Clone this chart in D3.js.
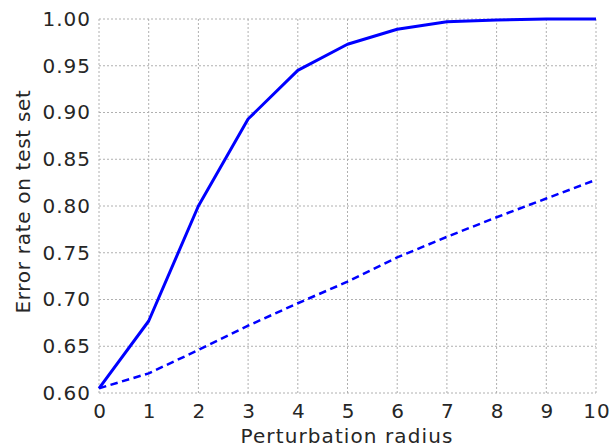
<!DOCTYPE html>
<html>
<head>
<meta charset="utf-8">
<title>Error rate vs perturbation radius</title>
<style>
body { margin: 0; background: #fff; }
text {
  font-family: "DejaVu Sans", sans-serif;
  fill: #262626;
}
.grid line {
  stroke: #b0b0b0;
  stroke-width: 1px;
  stroke-dasharray: 2 2;
}
.axis path, .axis line { display: none; }
</style>
</head>
<body>
<script src="https://cdn.jsdelivr.net/npm/d3@7"></script>
<script>
// data
var radius = [0, 1, 2, 3, 4, 5, 6, 7, 8, 9, 10];
var errorSolid = [0.605, 0.677, 0.800, 0.893, 0.945, 0.973, 0.989, 0.997, 0.999, 1.000, 1.000];
var errorDashed = [0.605, 0.621, 0.646, 0.672, 0.696, 0.719, 0.745, 0.767, 0.788, 0.808, 0.828];
var xTicks = [0, 1, 2, 3, 4, 5, 6, 7, 8, 9, 10];
var yTicks = [0.60, 0.65, 0.70, 0.75, 0.80, 0.85, 0.90, 0.95, 1.00];

var width = 610,
    height = 448;
var margin = {top: 19, right: 14, bottom: 55, left: 99};
var innerW = width - margin.left - margin.right,
    innerH = height - margin.top - margin.bottom;

var svg = d3.select("body").append("svg")
    .attr("width", width)
    .attr("height", height);

var g = svg.append("g")
    .attr("transform", "translate(" + margin.left + "," + margin.top + ")");

var x = d3.scaleLinear().domain([0, 10]).range([0, innerW]);
var y = d3.scaleLinear().domain([0.60, 1.00]).range([innerH, 0]);

// grid
g.append("g").attr("class", "grid")
  .selectAll("line").data(xTicks).enter().append("line")
    .attr("x1", function(d) { return x(d); })
    .attr("x2", function(d) { return x(d); })
    .attr("y1", 0).attr("y2", innerH);

g.append("g").attr("class", "grid")
  .selectAll("line").data(yTicks).enter().append("line")
    .attr("x1", 0).attr("x2", innerW)
    .attr("y1", function(d) { return y(d); })
    .attr("y2", function(d) { return y(d); });

// axes (labels only)
var xAxis = g.append("g").attr("class", "axis")
    .attr("transform", "translate(0," + innerH + ")")
    .call(d3.axisBottom(x).tickValues(xTicks).tickSize(0).tickPadding(11).tickFormat(d3.format("d")));
xAxis.attr("font-family", null);
xAxis.selectAll("text")
    .style("font-size", "20px")
    .style("letter-spacing", "1px")
    .attr("dx", "0.5")
    .attr("fill", "#262626");

var yAxis = g.append("g").attr("class", "axis")
    .call(d3.axisLeft(y).tickValues(yTicks).tickSize(0).tickPadding(9).tickFormat(d3.format(".2f")));
yAxis.attr("font-family", null);
yAxis.selectAll("text")
    .style("font-size", "20px")
    .style("letter-spacing", "1px")
    .attr("dx", "1")
    .attr("fill", "#262626");

// lines
var line = d3.line()
    .x(function(d) { return x(d[0]); })
    .y(function(d) { return y(d[1]); });

g.append("path")
    .datum(d3.zip(radius, errorDashed))
    .attr("fill", "none")
    .attr("stroke", "#0000ff")
    .attr("stroke-width", 2.5)
    .attr("stroke-dasharray", "7.5 4.5")
    .attr("d", line);

g.append("path")
    .datum(d3.zip(radius, errorSolid))
    .attr("fill", "none")
    .attr("stroke", "#0000ff")
    .attr("stroke-width", 3)
    .attr("stroke-linejoin", "round")
    .attr("d", line);

// axis titles
svg.append("text")
    .attr("x", 347)
    .attr("y", 443)
    .attr("text-anchor", "middle")
    .style("font-size", "20px")
    .style("letter-spacing", "1.1px")
    .text("Perturbation radius");

svg.append("text")
    .attr("transform", "translate(29.5,201.5) rotate(-90)")
    .attr("text-anchor", "middle")
    .style("font-size", "20px")
    .style("letter-spacing", "0.7px")
    .text("Error rate on test set");
</script>
</body>
</html>
